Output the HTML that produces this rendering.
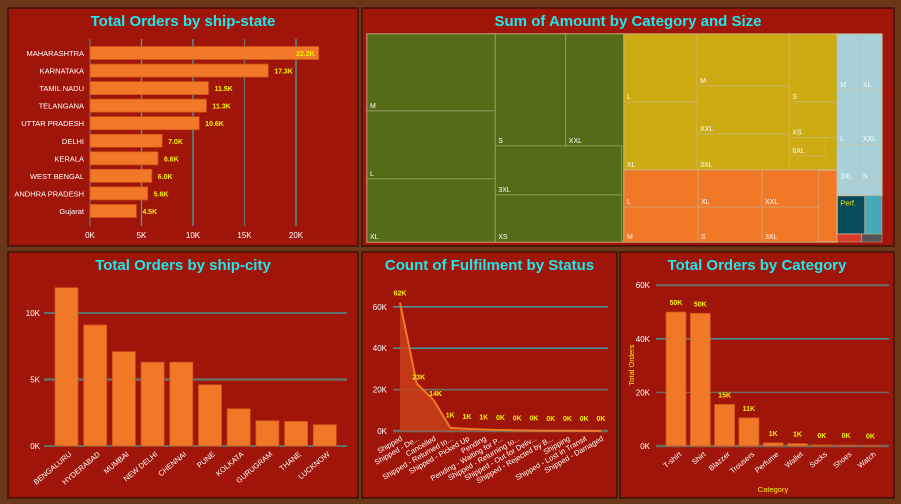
<!DOCTYPE html>
<html><head><meta charset="utf-8">
<style>
body{margin:0;width:901px;height:504px;background:#6a3818;overflow:hidden;font-family:"Liberation Sans",sans-serif}
svg{position:absolute;left:0;top:0}
</style></head>
<body>
<svg id="s" width="901" height="504">
<g id="panels"></g>
</svg>
<script>
// ---------- data ----------
const stateNames=["MAHARASHTRA","KARNATAKA","TAMIL NADU","TELANGANA","UTTAR PRADESH","DELHI","KERALA","WEST BENGAL","ANDHRA PRADESH","Gujarat"];
const stateValues=[22.2,17.3,11.5,11.3,10.6,7.0,6.6,6.0,5.6,4.5];
const stateLabels=["22.2K","17.3K","11.5K","11.3K","10.6K","7.0K","6.6K","6.0K","5.6K","4.5K"];
const stateTicks=[0,5,10,15,20];
const cityNames=["BENGALURU","HYDERABAD","MUMBAI","NEW DELHI","CHENNAI","PUNE","KOLKATA","GURUGRAM","THANE","LUCKNOW"];
const cityValues=[11.9,9.1,7.1,6.3,6.3,4.6,2.8,1.9,1.85,1.6];
const cityTicks=[0,5,10];
const statusNames=["Shipped","Shipped - De...","Cancelled","Shipped - Returned to...","Shipped - Picked Up","Pending","Pending - Waiting for P...","Shipped - Returning to...","Shipped - Out for Deliv...","Shipped - Rejected by B...","Shipping","Shipped - Lost in Transit","Shipped - Damaged"];
const statusValues=[62,23,15,1.6,1.0,0.7,0.5,0.3,0.2,0.1,0.1,0.05,0.02];
const statusLabels=["62K","23K","14K","1K","1K","1K","0K","0K","0K","0K","0K","0K","0K"];
const statusTicks=[0,20,40,60];
const catNames=["T-shirt","Shirt","Blazzer","Trousers","Perfume","Wallet","Socks","Shoes","Watch"];
const catValues=[50,49.5,15.5,10.5,1.2,0.9,0.4,0.3,0.2];
const catLabels=["50K","50K","15K","11K","1K","1K","0K","0K","0K"];
const catTicks=[0,20,40,60];
// treemap layout (fractions of area) [label,x0,y0,x1,y1,color,textColor]
const treeCells=[
["T-shirt",0,0,.499,1,"#546b18","#f2f000",1],
["M",0,0,.249,.37,"#546b18","#fff"],["L",0,.37,.249,.697,"#546b18","#fff"],["XL",0,.697,.249,1,"#546b18","#fff"],
["S",.249,0,.386,.538,"#546b18","#fff"],["XXL",.386,0,.499,.538,"#546b18","#fff"],
["3XL",.249,.538,.494,.774,"#546b18","#fff"],["XS",.249,.774,.494,1,"#546b18","#fff"],
["Shirt",.499,0,.913,.654,"#cbaa12","#f2f000",1],
["L",.499,0,.641,.327,"#cbaa12","#fff"],["XL",.641-.142,.327,.641,.654,"#cbaa12","#fff"],
["M",.641,0,.82,.25,"#cbaa12","#fff"],["XXL",.641,.25,.82,.481,"#cbaa12","#fff"],["3XL",.641,.481,.82,.654,"#cbaa12","#fff"],
["S",.82,0,.913,.327,"#cbaa12","#fff"],["XS",.82,.327,.913,.497,"#cbaa12","#fff"],["6XL",.82,.497,.89,.587,"#cbaa12","#fff"],
["Blazzer",.499,.654,.913,1,"#f07826","#f2f000",1],
["L",.499,.654,.643,.832,"#f07826","#fff"],["M",.499,.832,.643,1,"#f07826","#fff"],
["XL",.643,.654,.767,.832,"#f07826","#fff"],["S",.643,.832,.767,1,"#f07826","#fff"],
["XXL",.767,.654,.877,.832,"#f07826","#fff"],["3XL",.767,.832,.877,1,"#f07826","#fff"],
["Trousers",.913,0,1,.777,"#a8d0d8","#f2f000",1],
["M",.913,0,.957,.27,"#a8d0d8","#fff"],["L",.913,.27,.957,.53,"#a8d0d8","#fff"],["3XL",.913,.53,.957,.71,"#a8d0d8","#fff"],
["XL",.957,0,1,.27,"#a8d0d8","#fff"],["XXL",.957,.27,1,.53,"#a8d0d8","#fff"],["S",.957,.53,1,.71,"#a8d0d8","#fff"],
["Perf.",.913,.777,.967,.962,"#074a5a","#f2f000",1],["",.967,.777,1,.962,"#45aab5","#fff"],
["",.913,.962,.96,1,"#d83a2a","#fff"],["",.96,.962,1,1,"#555","#fff"]];

const NS="http://www.w3.org/2000/svg";
const root=document.getElementById('panels');
function el(tag,attrs,parent,text){const e=document.createElementNS(NS,tag);for(const k in attrs)e.setAttribute(k,attrs[k]);if(text!=null)e.textContent=text;(parent||root).appendChild(e);return e;}
function panel(x,y,w,h,title,name){
 const g=el('g',{});
 
 
 el('rect',{x:x,y:y,width:w,height:h,fill:'#a01509',stroke:'#3a1208','stroke-width':1.5},g);
 const t=el('text',{x:x+w/2,y:y+18,'text-anchor':'middle','font-size':15,'font-weight':'bold',fill:'#1ee8ec'},g,title);
 
 
 return g;}
function grid(g,x0,x1,y,col,w){el('line',{x1:x0,x2:x1,y1:y,y2:y,stroke:col,'stroke-width':w||1.2},g);}
const TEAL="#3aa6ac",GRAY="#6e6e64";

// ---- Panel 1: state ----
(function(){
 const g=panel(8,8,350,238,"Total Orders by ship-state","state-chart");
 const x=v=>90+v*10.3, yc=i=>53+i*17.55;
 const gc=[GRAY,TEAL,TEAL,GRAY,TEAL];
 stateTicks.forEach((t,i)=>{el('line',{x1:x(t),x2:x(t),y1:39,y2:226,stroke:gc[i],'stroke-width':1.3},g);
  el('text',{x:x(t),y:238,'text-anchor':'middle','font-size':8,fill:'#fff'},g,t+'K');});
 stateNames.forEach((n,i)=>{
  el('text',{x:84,y:yc(i)+3,'text-anchor':'end','font-size':7.5,fill:'#fff'},g,n);
  const b=el('rect',{x:x(0),y:yc(i)-6.5,width:x(stateValues[i])-x(0),height:13,fill:'#f07826',stroke:'#d0541c','stroke-width':.8},g);
  
  
  const inside=i===0;
  el('text',{x:inside?x(stateValues[i])-4:x(stateValues[i])+6,y:yc(i)+3,'text-anchor':inside?'end':'start','font-size':7,'font-weight':'bold',fill:'#f2f000'},g,stateLabels[i]);
 });
})();

// ---- Panel 2: treemap ----
(function(){
 const g=panel(362,8,532,238,"Sum of Amount by Category and Size","treemap");
 const X0=367,Y0=34,W=515,H=208;
 treeCells.forEach(c=>{
  const [lab,a,b,cc,d,fill,tc,big]=c;
  const r=el('rect',{x:X0+a*W,y:Y0+b*H,width:(cc-a)*W,height:(d-b)*H,fill:fill,stroke:big?'#d8b890':'rgba(200,190,150,.6)','stroke-width':big?1.2:.8},g);
  
  
  if(lab){ if(big) el('text',{x:X0+a*W+3,y:Y0+b*H+10,'font-size':7.5,fill:tc},g,lab);
   else el('text',{x:X0+a*W+3,y:Y0+d*H-3,'font-size':7,fill:tc},g,lab);}
 });
})();

// ---- Panel 3: city ----
(function(){
 const g=panel(8,252,350,246,"Total Orders by ship-city","city-chart");
 const y=v=>446-v*13.3, x=i=>55+i*28.7;
 const gc=[TEAL,GRAY,TEAL],gw=[1.3,2.5,1.3];
 cityTicks.forEach((t,i)=>{grid(g,44,347,y(t),gc[i],gw[i]);
  el('text',{x:40,y:y(t)+3,'text-anchor':'end','font-size':8,fill:'#fff'},g,t+'K');});
 cityNames.forEach((n,i)=>{
  const b=el('rect',{x:x(i),y:y(cityValues[i]),width:23,height:446-y(cityValues[i]),fill:'#f07826',stroke:'#d0541c','stroke-width':.8},g);
  
  
  el('text',{x:x(i)+17,y:455,'text-anchor':'end','font-size':7.5,fill:'#fff',transform:`rotate(-40 ${x(i)+17} 455)`},g,n);
 });
})();

// ---- Panel 4: fulfilment ----
(function(){
 const g=panel(362,252,255,246,"Count of Fulfilment by Status","status-chart");
 const y=v=>431-v*2.07, x=i=>400+i*16.75;
 const gc=[GRAY,GRAY,TEAL,TEAL],gw=[2.5,1.8,1.3,1.3];
 statusTicks.forEach((t,i)=>{grid(g,393,608,y(t),gc[i],gw[i]);
  el('text',{x:387,y:y(t)+3,'text-anchor':'end','font-size':8,fill:'#fff'},g,t+'K');});
 let d=`M${x(0)},${y(0)}`;statusValues.forEach((v,i)=>d+=` L${x(i)},${y(v)}`);d+=` L${x(statusValues.length-1)},${y(0)}Z`;
 const a=el('path',{d:d,fill:'#c8401a','fill-opacity':.85},g);
 
 
 const l=el('polyline',{points:statusValues.map((v,i)=>x(i)+','+y(v)).join(' '),fill:'none',stroke:'#f07826','stroke-width':2},g);
 
 
 statusNames.forEach((n,i)=>{
  const lx=i<3?x(i)+(i==0?0:2):x(i);
  const ly=i==0?y(statusValues[i])-7:(i<3?y(statusValues[i])-4:y(statusValues[i])-10);
  el('text',{x:lx,y:ly,'text-anchor':'middle','font-size':7,'font-weight':'bold',fill:'#f2f000'},g,statusLabels[i]);
  el('text',{x:x(i)+3,y:440,'text-anchor':'end','font-size':7.5,fill:'#fff',transform:`rotate(-30 ${x(i)+3} 440)`},g,n);
 });
})();

// ---- Panel 5: category ----
(function(){
 const g=panel(620,252,274,246,"Total Orders by Category","category-chart");
 const y=v=>446-v*2.68, x=i=>666+i*24.3;
 const gc=[GRAY,GRAY,TEAL,GRAY],gw=[2.5,1.3,1.3,2];
 catTicks.forEach((t,i)=>{grid(g,656,889,y(t),gc[i],gw[i]);
  el('text',{x:650,y:y(t)+3,'text-anchor':'end','font-size':8,fill:'#fff'},g,t+'K');});
 catNames.forEach((n,i)=>{
  const b=el('rect',{x:x(i),y:y(catValues[i]),width:20,height:446-y(catValues[i]),fill:'#f07826',stroke:'#d0541c','stroke-width':.8},g);
  
  
  el('text',{x:x(i)+10,y:y(catValues[i])-7,'text-anchor':'middle','font-size':7,'font-weight':'bold',fill:'#f2f000'},g,catLabels[i]);
  el('text',{x:x(i)+16,y:455,'text-anchor':'end','font-size':7.5,fill:'#fff',transform:`rotate(-40 ${x(i)+16} 455)`},g,n);
 });
 el('text',{x:634,y:365,'text-anchor':'middle','font-size':7.5,fill:'#f2f000',transform:'rotate(-90 634 365)'},g,'Total Orders');
 el('text',{x:773,y:492,'text-anchor':'middle','font-size':7.5,fill:'#f2f000'},g,'Category');
})();
</script>
</body></html>
